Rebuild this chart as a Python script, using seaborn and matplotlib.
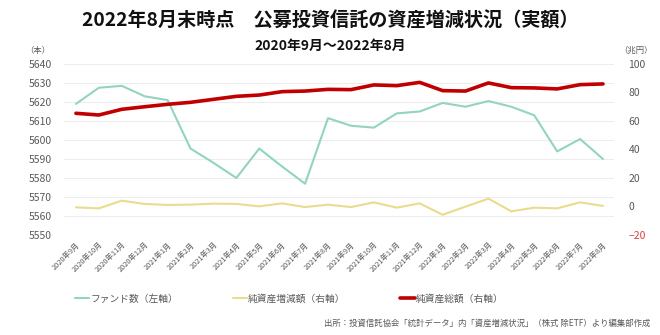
import matplotlib
matplotlib.use("Agg")
import matplotlib.pyplot as plt
from matplotlib.lines import Line2D
import seaborn as sns
import pandas as pd

months = ["2020年9月", "2020年10月", "2020年11月", "2020年12月",
          "2021年1月", "2021年2月", "2021年3月", "2021年4月", "2021年5月",
          "2021年6月", "2021年7月", "2021年8月", "2021年9月", "2021年10月",
          "2021年11月", "2021年12月", "2022年1月", "2022年2月", "2022年3月",
          "2022年4月", "2022年5月", "2022年6月", "2022年7月", "2022年8月"]

fund_count = [5619, 5627.5, 5628.5, 5623, 5621, 5595.5, 5588, 5580, 5595.5,
              5586, 5577, 5611.5, 5607.5, 5606.5, 5614, 5615, 5619.5, 5617.5,
              5620.5, 5617.5, 5613, 5594, 5600.5, 5590]

net_change = [-0.6, -1.3, 4.1, 1.8, 1.1, 1.3, 2.0, 1.8, 0.1, 2.2, -0.4, 1.3,
              -0.4, 2.9, -0.8, 2.2, -5.8, -0.1, 5.5, -3.4, -0.8, -1.3, 2.9, 0.4]

net_total = [65.4, 64.2, 68.2, 70.0, 71.7, 73.1, 75.2, 77.3, 78.2, 80.6, 81.0,
             82.2, 82.0, 85.3, 84.8, 87.1, 81.3, 81.0, 86.7, 83.4, 83.2, 82.5,
             85.5, 86.0]

left_ticks = [5550, 5560, 5570, 5580, 5590, 5600, 5610, 5620, 5630, 5640]
right_ticks = [-20, 0, 20, 40, 60, 80, 100]

title = "2022年8月末時点　公募投資信託の資産増減状況（実額）"
subtitle = "2020年9月～2022年8月"
labels = ["ファンド数（左軸）", "純資産増減額（右軸）", "純資産総額（右軸）"]
source = "出所：投資信託協会「統計データ」内「資産増減状況」（株式 除ETF）より編集部作成"

GREEN = "#92d3c2"
YELLOW = "#e9dc8f"
RED = "#c00000"
GREY = "#595959"

sns.set_theme(style="white")
plt.rcParams["font.family"] = ["Noto Sans CJK JP", "DejaVu Sans"]

df = pd.DataFrame({"idx": range(len(months)), "month": months,
                   "fund": fund_count, "change": net_change, "total": net_total})

fig = plt.figure(figsize=(6.6, 3.35), dpi=100)
ax = fig.add_axes([0.0977, 0.2985, 0.8333, 0.5105])
ax2 = ax.twinx()

sns.lineplot(data=df, x="idx", y="fund", ax=ax, color=GREEN, linewidth=1.5)
sns.lineplot(data=df, x="idx", y="change", ax=ax2, color=YELLOW, linewidth=1.5)
sns.lineplot(data=df, x="idx", y="total", ax=ax2, color=RED, linewidth=2.6)

ax.set_xlim(-0.5, len(months) - 0.5)
ax.set_ylim(5550, 5640)
ax2.set_ylim(-20, 100)
ax.set_yticks(left_ticks)
ax2.set_yticks(right_ticks)
ax.set_xticks(range(len(months)))
ax.set_xticklabels(months, rotation=45, ha="right", rotation_mode="anchor",
                   fontsize=5.3, color=GREY)
ax.tick_params(axis="x", length=0, pad=4)
ax.tick_params(axis="y", length=0, labelsize=7.5, labelcolor=GREY, pad=9)
ax2.tick_params(axis="y", length=0, labelsize=7.5, labelcolor=GREY, pad=10)
for t in ax2.get_yticklabels():
    if t.get_text().replace("−", "-") == "-20":
        t.set_color("#e03c3c")
ax.set_xlabel("")
ax.set_ylabel("")
ax2.set_ylabel("")
ax.grid(axis="y", color="#ededed", linewidth=0.8)
ax.grid(axis="x", visible=False)
ax2.grid(False)
for a in (ax, ax2):
    for s in a.spines.values():
        s.set_visible(False)

fig.text(0.5, 0.937, title, ha="center", va="center", fontsize=13.8, fontweight="bold", color="#111111")
fig.text(0.5, 0.862, subtitle, ha="center", va="center", fontsize=10, fontweight="bold", color="#111111")
fig.text(0.058, 0.85, "（本）", ha="center", va="center", fontsize=6, color=GREY)
fig.text(0.963, 0.85, "（兆円）", ha="center", va="center", fontsize=6, color=GREY)

handles = [Line2D([], [], color=GREEN, linewidth=1.5),
           Line2D([], [], color=YELLOW, linewidth=1.5),
           Line2D([], [], color=RED, linewidth=2.6)]
leg = fig.legend(handles, labels, loc="center left", bbox_to_anchor=(0.1, 0.108),
                 ncol=3, frameon=False, fontsize=7, handlelength=1.5,
                 handletextpad=0.1, columnspacing=5.6)
for t in leg.get_texts():
    t.set_color(GREY)

fig.text(0.985, 0.035, source, ha="right", va="center", fontsize=6, color=GREY)

fig.savefig("out.png", dpi=100, facecolor="white")
